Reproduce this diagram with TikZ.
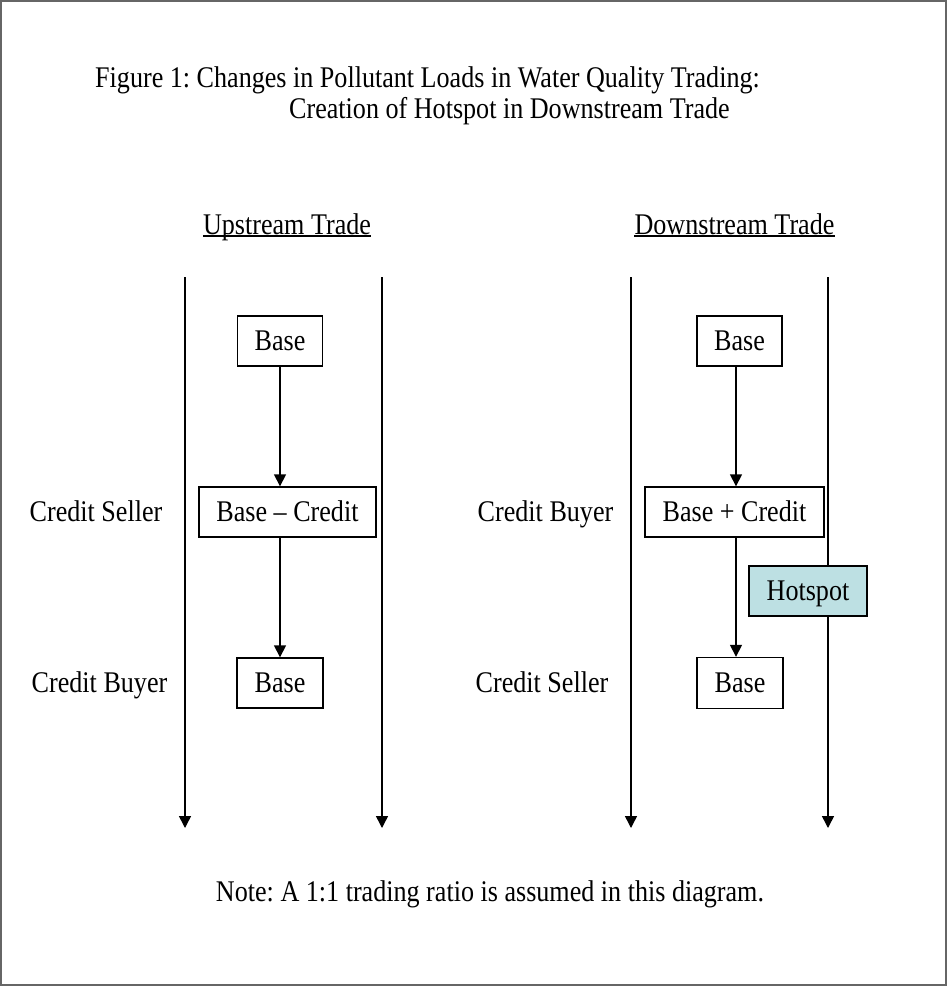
\documentclass[tikz,border=0pt]{standalone}
\usepackage{fontspec}
\setmainfont[FakeStretch=0.87]{Liberation Serif}
\usetikzlibrary{arrows.meta}
\frenchspacing
\begin{document}
\begin{tikzpicture}[x=1pt,y=-1pt,
  every node/.style={font=\fontsize{30}{34}\selectfont, inner sep=0pt, text height=21pt, text depth=3pt},
  box/.style={draw=black, line width=1.4pt, fill=white},
  hot/.style={draw=black, line width=1.4pt, fill={rgb,255:red,189;green,224;blue,227}},
  flow/.style={line width=1.5pt, -{Triangle[length=12pt,width=12pt]}},
  uline/.style={line width=1.2pt},
  frame/.style={draw=black!60, line width=2pt, fill=white}]
\useasboundingbox (0,0) rectangle (947,986);
\draw[frame] (1,1) rectangle (946,985);
% title
\node[anchor=west] (t1) at (95,78) {Figure 1: Changes in Pollutant Loads in Water Quality Trading:};
\node[anchor=west] (t2) at (289,109) {Creation of Hotspot in Downstream Trade};
% headings
\node (up) at (287,225) {Upstream Trade};
\node (down) at (734.5,225) {Downstream Trade};
\draw[uline] (up.west |- 0,236) -- (up.east |- 0,236);
\draw[uline] (down.west |- 0,236) -- (down.east |- 0,236);
% axes
\coordinate (a1s) at (185,277); \coordinate (a1e) at (185,828);
\coordinate (a2s) at (382,277); \coordinate (a2e) at (382,828);
\coordinate (a3s) at (631,277); \coordinate (a3e) at (631,828);
\coordinate (a4s) at (828,277); \coordinate (a4e) at (828,828);
\draw[flow] (a1s) -- (a1e);
\draw[flow] (a2s) -- (a2e);
\draw[flow] (a3s) -- (a3e);
\draw[flow] (a4s) -- (a4e);
% left boxes
\node[box, minimum width=85pt, minimum height=50pt] (lb1) at (280,341) {Base};
\node[box, minimum width=177pt, minimum height=50pt] (lb2) at (287.5,512) {Base – Credit};
\node[box, minimum width=86pt, minimum height=50pt] (lb3) at (280,683) {Base};
\draw[flow] (lb1.south) -- (lb1.south |- lb2.north);
\draw[flow] (lb1.south |- lb2.south) -- (lb1.south |- lb3.north);
% right boxes
\node[box, minimum width=85pt, minimum height=50pt] (rb1) at (739.5,341) {Base};
\node[box, minimum width=179pt, minimum height=50pt] (rb2) at (734.5,512) {Base + Credit};
\node[box, minimum width=86pt, minimum height=51pt] (rb3) at (740,683) {Base};
\coordinate (rx1) at (736,367);
\draw[flow] (rx1) -- (rx1 |- rb2.north);
\draw[flow] (rx1 |- rb2.south) -- (rx1 |- rb3.north);
\node[hot, minimum width=118pt, minimum height=50pt] (hs) at (808,591) {Hotspot};
% labels
\node (ls) at (96,512) {Credit Seller};
\node (lbuy) at (99.5,683) {Credit Buyer};
\node (rbuy) at (545.5,512) {Credit Buyer};
\node (rs) at (542,683) {Credit Seller};
% note
\node (note) at (490,892) {Note: A 1:1 trading ratio is assumed in this diagram.};
\end{tikzpicture}
\end{document}
